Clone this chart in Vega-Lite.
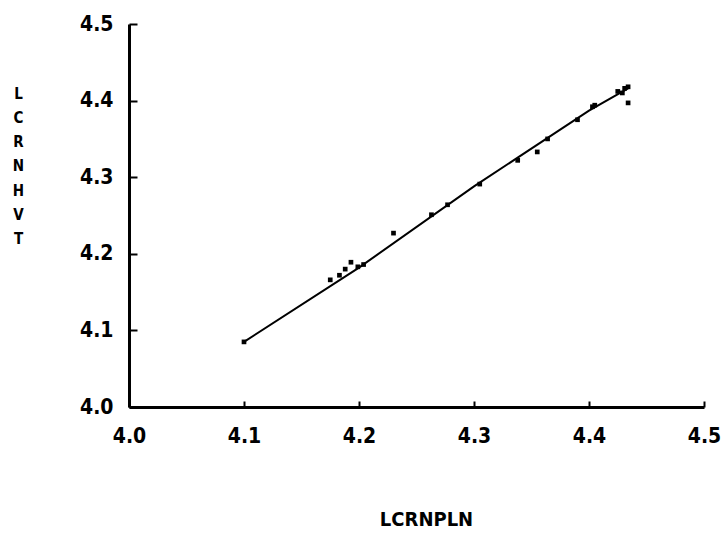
{
  "$schema": "https://vega.github.io/schema/vega-lite/v6.json",
  "width": 575,
  "height": 383,
  "autosize": "none",
  "padding": {"left": 129, "top": 24, "right": 21, "bottom": 132},
  "background": "white",
  "config": {"view": {"stroke": null}},
  "datasets": {
    "pts": [
      {"x": 4.100, "y": 4.085},
      {"x": 4.175, "y": 4.166},
      {"x": 4.183, "y": 4.172},
      {"x": 4.188, "y": 4.180},
      {"x": 4.193, "y": 4.189},
      {"x": 4.199, "y": 4.183},
      {"x": 4.204, "y": 4.186},
      {"x": 4.230, "y": 4.227},
      {"x": 4.263, "y": 4.251},
      {"x": 4.277, "y": 4.264},
      {"x": 4.305, "y": 4.291},
      {"x": 4.338, "y": 4.322},
      {"x": 4.355, "y": 4.333},
      {"x": 4.364, "y": 4.350},
      {"x": 4.390, "y": 4.375},
      {"x": 4.403, "y": 4.392},
      {"x": 4.405, "y": 4.394},
      {"x": 4.425, "y": 4.412},
      {"x": 4.429, "y": 4.410},
      {"x": 4.431, "y": 4.416},
      {"x": 4.434, "y": 4.418},
      {"x": 4.434, "y": 4.397}
    ],
    "fit": [
      {"x": 4.100, "y": 4.085},
      {"x": 4.200, "y": 4.182},
      {"x": 4.300, "y": 4.288},
      {"x": 4.400, "y": 4.387},
      {"x": 4.434, "y": 4.416}
    ]
  },
  "layer": [
    {
      "data": {"name": "fit"},
      "mark": {"type": "line", "color": "black", "strokeWidth": 2},
      "encoding": {
        "x": {"field": "x", "type": "quantitative", "scale": {"domain": [4.0, 4.5], "nice": false, "zero": false},
          "axis": {"title": "LCRNPLN", "values": [4.0, 4.1, 4.2, 4.3, 4.4, 4.5], "format": ".1f", "grid": false,
            "domainColor": "black", "domainWidth": 3, "ticks": true, "tickColor": "black", "tickWidth": 2, "tickSize": -6, "tickOpacity": 1,
            "labelFont": "DejaVu Sans Condensed, DejaVu Sans", "labelFontWeight": "bold", "labelFontSize": 21, "labelColor": "black",
            "labelPadding": 24, "labelBaseline": "top", "labelFlush": false,
            "titleFont": "DejaVu Sans Condensed, DejaVu Sans", "titleFontWeight": "bold", "titleFontSize": 20, "titleColor": "black",
            "titleX": 297, "titleY": 112, "titleBaseline": "middle", "titleAlign": "center"}},
        "y": {"field": "y", "type": "quantitative", "scale": {"domain": [4.0, 4.5], "nice": false, "zero": false},
          "axis": {"title": ["L", "C", "R", "N", "H", "V", "T"], "values": [4.0, 4.1, 4.2, 4.3, 4.4, 4.5], "format": ".1f", "grid": false,
            "domainColor": "black", "domainWidth": 3, "ticks": true, "tickColor": "black", "tickWidth": 2, "tickSize": -8, "tickOpacity": 1,
            "labelFont": "DejaVu Sans Condensed, DejaVu Sans", "labelFontWeight": "bold", "labelFontSize": 21, "labelColor": "black",
            "labelPadding": 24, "labelFlush": false,
            "titleFont": "DejaVu Sans Condensed, DejaVu Sans", "titleFontWeight": "bold", "titleFontSize": 15, "titleColor": "black",
            "titleAngle": 0, "titleX": -111, "titleY": 62, "titleAlign": "center", "titleBaseline": "top", "titleLineHeight": 24.3}}
      }
    },
    {
      "data": {"name": "pts"},
      "mark": {"type": "square", "color": "black", "filled": true, "opacity": 1, "size": 22},
      "encoding": {
        "x": {"field": "x", "type": "quantitative"},
        "y": {"field": "y", "type": "quantitative"}
      }
    }
  ]
}
